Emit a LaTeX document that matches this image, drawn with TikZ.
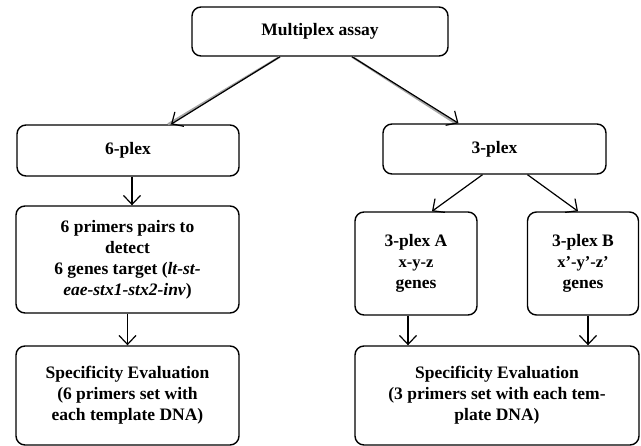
\documentclass[tikz,border=0pt]{standalone}
\usepackage{fontspec}
\setmainfont{Liberation Serif}
\usepackage{tikz}
\usetikzlibrary{arrows.meta}

\tikzset{
	box/.style={draw=black, line width=1.4pt, rounded corners=9pt, align=center, inner sep=2pt, font=\bfseries\fontsize{17.5}{21}\selectfont},
	arr/.style={line width=1.2pt, -{Straight Barb[length=9pt, width=17pt, line width=1.2pt]}},
	shade/.style={draw=black!35, line width=2.2pt, shift={(1.2pt,-1.2pt)}}
}

\begin{document}
\begin{tikzpicture}[x=1pt, y=-1pt]
						\useasboundingbox (0, 0) rectangle (641, 446);
						\node[box, minimum width=256pt, minimum height=49pt] (node0) at (320, 31.5) {Multiplex assay};
						\node[box, minimum width=222pt, minimum height=51pt] (node1) at (128, 150.5) {6-plex};
						\node[box, minimum width=223pt, minimum height=50pt] (node2) at (494.5, 149) {3-plex};
						\node[box, minimum width=223pt, minimum height=107pt] (node3) at (127.5, 259.5) {6 primers pairs to\\detect\\6 genes target (\textit{lt-st-}\\\textit{eae-stx1-stx2-inv})};
						\node[box, minimum width=223pt, minimum height=99pt] (node4) at (127.5, 395.5) {Specificity Evaluation\\(6 primers set with\\each template DNA)};
						\node[box, minimum width=122pt, minimum height=103pt] (node5) at (416, 263.5) {3-plex A\\{\fontsize{16.5}{21}\selectfont x-y-z}\\genes};
						\node[box, minimum width=111pt, minimum height=103pt] (node6) at (583, 263.5) {3-plex B\\{\fontsize{16.5}{21}\selectfont x’-y’-z’}\\genes};
						\node[box, minimum width=284pt, minimum height=99pt] (node7) at (497, 395.5) {Specificity Evaluation\\(3 primers set with each tem-\\plate DNA)};
						% shadowed arrows from the top box
						\draw[shade] ([xshift=-40pt]node0.south) -- ([xshift=40pt]node1.north);
						\draw[shade] ([xshift=32pt]node0.south) -- ([xshift=-39pt]node2.north);
						\draw[arr] ([xshift=-40pt]node0.south) -- ([xshift=43pt]node1.north);
						\draw[arr] ([xshift=32pt]node0.south) -- ([xshift=-36pt]node2.north);
						\draw[arr] ([xshift=4pt]node1.south) -- ([xshift=4.5pt]node3.north);
						\draw[arr] (node3.south) -- (node4.north);
						\draw[arr] ([xshift=-12pt]node2.south) -- ([xshift=16pt]node5.north);
						\draw[arr] ([xshift=33pt]node2.south) -- ([xshift=-5pt]node6.north);
						\draw[arr] ([xshift=-8pt]node5.south) -- ([xshift=-89pt]node7.north);
						\draw[arr] ([xshift=5pt]node6.south) -- ([xshift=91pt]node7.north);
					\end{tikzpicture}
\end{document}
